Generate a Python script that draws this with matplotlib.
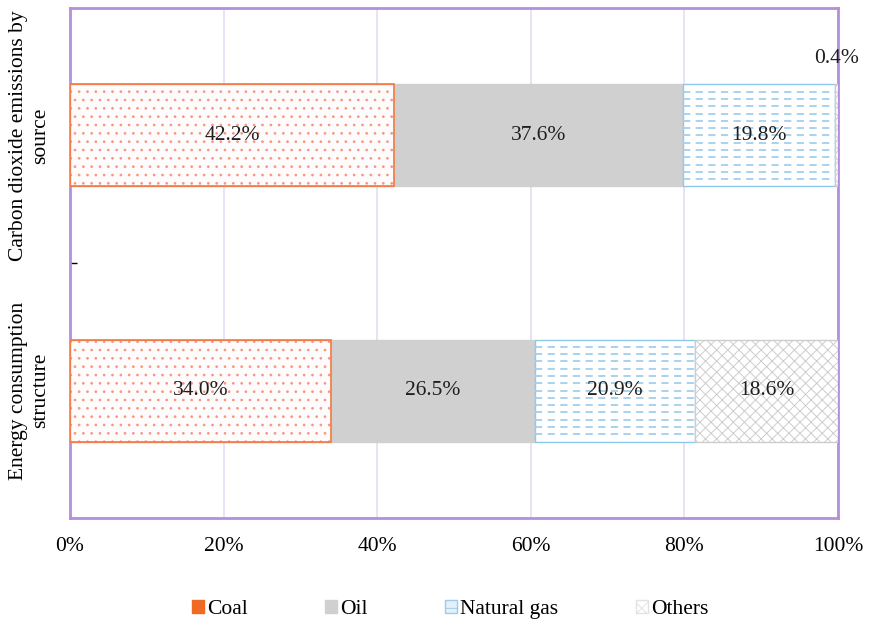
import matplotlib.pyplot as plt
from matplotlib.patches import Patch

# dati (in basso -> in alto)
categories = ["Energy consumption\nstructure", "Carbon dioxide emissions by\nsource"]
sources = ["Coal", "Oil", "Natural gas", "Others"]
coal = [34.0, 42.2]
oil = [26.5, 37.6]
gas = [20.9, 19.8]
others = [18.6, 0.4]

plt.rcParams["font.family"] = ["Liberation Serif", "DejaVu Serif"]
plt.rcParams["hatch.linewidth"] = 0.7
FS = 15.5

fig = plt.figure(figsize=(8.69, 6.23), dpi=100)
ax = fig.add_axes([0.0806, 0.1685, 0.8837, 0.8187])

# stili per ogni serie: (facecolor, edgecolor/hatch color, hatch)
styles = [
    ("#fdfbfb", "#f6977c", ".."),
    ("#d0d0d0", "#d0d0d0", None),
    ("white", "#8cc8ea", None),
    ("white", "#cdcdcd", "xxx"),
]
series = [coal, oil, gas, others]

y = list(range(len(categories)))
left = [0.0] * len(categories)
for k, (vals, (fc, ec, hatch)) in enumerate(zip(series, styles)):
    bars = ax.barh(y, vals, left=left, height=0.4, color=fc, edgecolor=ec,
                   hatch=hatch, linewidth=1.0, zorder=3)
    if k == 0:
        # bordo arancione più deciso per il carbone
        ax.barh(y, vals, left=left, height=0.4, color="none",
                edgecolor="#f27a45", linewidth=1.2, zorder=3.6)
    if k == 2:
        # trattini azzurri per il gas naturale, ritagliati sulla barra
        for b in bars:
            x0, y0 = b.get_x(), b.get_y()
            w, h = b.get_width(), b.get_height()
            n = 14
            for j in range(1, n):
                ln, = ax.plot([x0, x0 + w], [y0 + h * j / n] * 2,
                              color="#a3cfed", lw=1.3, zorder=3.5,
                              dashes=(4, 3))
                ln.set_clip_path(b)
    for i, v in enumerate(vals):
        if v >= 1:
            ax.text(left[i] + v / 2, y[i], f"{v:.1f}%", ha="center",
                    va="center", fontsize=FS, color="#1e1e1e", zorder=4)
        else:
            # etichetta piccola sopra la barra
            ax.text(left[i] + v / 2, y[i] + 0.30, f"{v:.1f}%", ha="center",
                    va="center", fontsize=FS, color="#1e1e1e", zorder=4)
    left = [l + v for l, v in zip(left, vals)]

ax.set_xlim(0, 100)
ax.set_ylim(-0.5, 1.5)
ax.set_xticks([0, 20, 40, 60, 80, 100])
ax.set_xticklabels([f"{t}%" for t in [0, 20, 40, 60, 80, 100]], fontsize=FS)
ax.tick_params(axis="x", length=0, pad=14)
ax.grid(axis="x", color="#e6dcf5", linewidth=1.2, zorder=0)

ax.set_yticks(y)
ax.set_yticklabels(categories, rotation=90, va="center", ha="center",
                   multialignment="center", fontsize=FS)
ax.tick_params(axis="y", length=0, pad=29)
ax.set_yticks([0.5], minor=True)
ax.tick_params(axis="y", which="minor", direction="in", length=5,
               color="black", width=1)

for s in ax.spines.values():
    s.set_color("#b38fdd")
    s.set_linewidth(2)

handles = [
    Patch(facecolor="#ef6a23", edgecolor="#ef6a23"),
    Patch(facecolor="#d0d0d0", edgecolor="#d0d0d0"),
    Patch(facecolor="#e4f1fa", edgecolor="#9ccbeb", hatch="+"),
    Patch(facecolor="white", edgecolor="#e2e2e2", hatch="xx"),
]
fig.legend(handles, sources, loc="center", bbox_to_anchor=(0.518, 0.021),
           ncol=4, frameon=False, fontsize=FS, handlelength=0.55,
           handleheight=0.55, handletextpad=0.15, columnspacing=3.6)

fig.savefig("out.png", dpi=100)
